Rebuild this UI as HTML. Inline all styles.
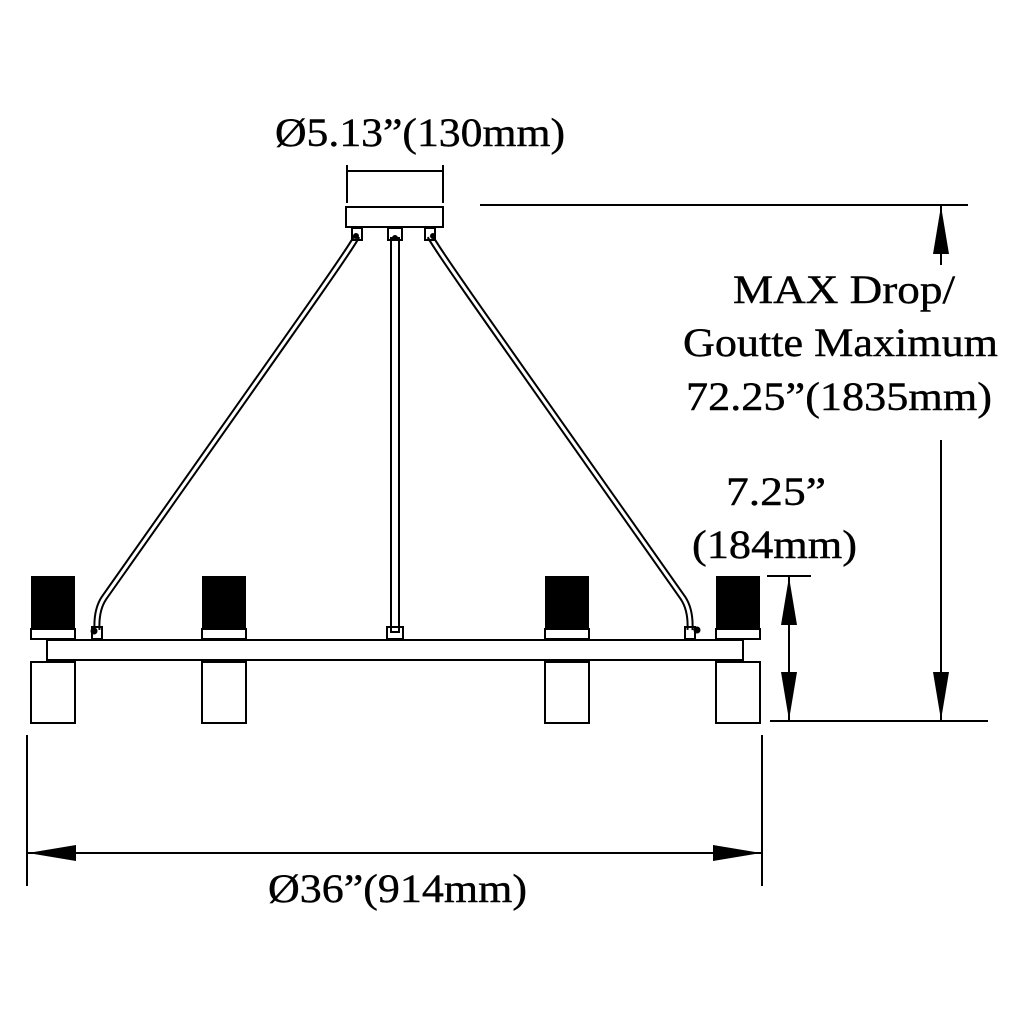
<!DOCTYPE html>
<html><head><meta charset="utf-8"><style>
html,body{margin:0;padding:0;background:#fff;}
svg{display:block;}
text{font-family:"Liberation Serif",serif;fill:#000;}
</style></head><body>
<svg width="1024" height="1024" viewBox="0 0 1024 1024" xmlns="http://www.w3.org/2000/svg">
<rect width="1024" height="1024" fill="#fff"/>
<g stroke="#000" stroke-width="2" fill="none">
<line x1="347" y1="165" x2="347" y2="203"/>
<line x1="443" y1="165" x2="443" y2="203"/>
<line x1="347" y1="171" x2="443" y2="171"/>
<rect x="346" y="207" width="97" height="20"/>
<path d="M357 236 C350 250 300 320 104 598 Q96 610 97 630" stroke-width="7"/>
<path d="M357 236 C350 250 300 320 104 598 Q96 610 97 630" stroke="#fff" stroke-width="3"/>
<path d="M430 236 C437 250 487 320 683 598 Q691 610 690 630" stroke-width="7"/>
<path d="M430 236 C437 250 487 320 683 598 Q691 610 690 630" stroke="#fff" stroke-width="3"/>
<rect x="391" y="238" width="8" height="394" stroke-width="2"/>
<rect x="47" y="640" width="696" height="20"/>
<rect x="31" y="662" width="44" height="61"/>
<rect x="202" y="662" width="44" height="61"/>
<rect x="545" y="662" width="44" height="61"/>
<rect x="716" y="662" width="44" height="61"/>
<rect x="31" y="629" width="44" height="10"/>
<rect x="202" y="629" width="44" height="10"/>
<rect x="545" y="629" width="44" height="10"/>
<rect x="716" y="629" width="44" height="10"/>
<rect x="92" y="627" width="10" height="12"/>
<rect x="685" y="627" width="10" height="12"/>
<rect x="387" y="627" width="16" height="12"/>
<rect x="352" y="228" width="10" height="12"/>
<rect x="388" y="228" width="14" height="12"/>
<rect x="425" y="228" width="10" height="12"/>
<line x1="480" y1="205" x2="968" y2="205"/>
<line x1="941" y1="205" x2="941" y2="265"/>
<line x1="941" y1="440" x2="941" y2="720"/>
<line x1="770" y1="721" x2="988" y2="721"/>
<line x1="767" y1="576" x2="811" y2="576"/>
<line x1="789" y1="576" x2="789" y2="720"/>
<line x1="27" y1="735" x2="27" y2="886"/>
<line x1="762" y1="735" x2="762" y2="886"/>
<line x1="27" y1="853" x2="762" y2="853"/>
</g>
<g fill="#000">
<rect x="31" y="576" width="44" height="53"/>
<rect x="202" y="576" width="44" height="53"/>
<rect x="545" y="576" width="44" height="53"/>
<rect x="716" y="576" width="44" height="53"/>
<circle cx="94" cy="631" r="3.5"/><circle cx="697" cy="630" r="3.5"/>
<circle cx="356" cy="236" r="3"/><circle cx="395" cy="238" r="3"/><circle cx="433" cy="236" r="3"/>
<polygon points="941,206 933,254 949,254"/>
<polygon points="941,720 933,672 949,672"/>
<polygon points="789,577 781,625 797,625"/>
<polygon points="789,720 781,672 797,672"/>
<polygon points="28,853 76,845 76,861"/>
<polygon points="761,853 713,845 713,861"/>
</g>
<g font-size="40" stroke="#000" stroke-width="0.4">
<text x="275" y="146" textLength="290" lengthAdjust="spacingAndGlyphs">Ø5.13”(130mm)</text>
<text x="733" y="303" textLength="222" lengthAdjust="spacingAndGlyphs">MAX Drop/</text>
<text x="683" y="356" textLength="315" lengthAdjust="spacingAndGlyphs">Goutte Maximum</text>
<text x="686" y="410" textLength="306" lengthAdjust="spacingAndGlyphs">72.25”(1835mm)</text>
<text x="726" y="505" textLength="100" lengthAdjust="spacingAndGlyphs">7.25”</text>
<text x="692" y="558" textLength="165" lengthAdjust="spacingAndGlyphs">(184mm)</text>
<text x="268" y="902" textLength="259" lengthAdjust="spacingAndGlyphs">Ø36”(914mm)</text>
</g>
</svg>
</body></html>
